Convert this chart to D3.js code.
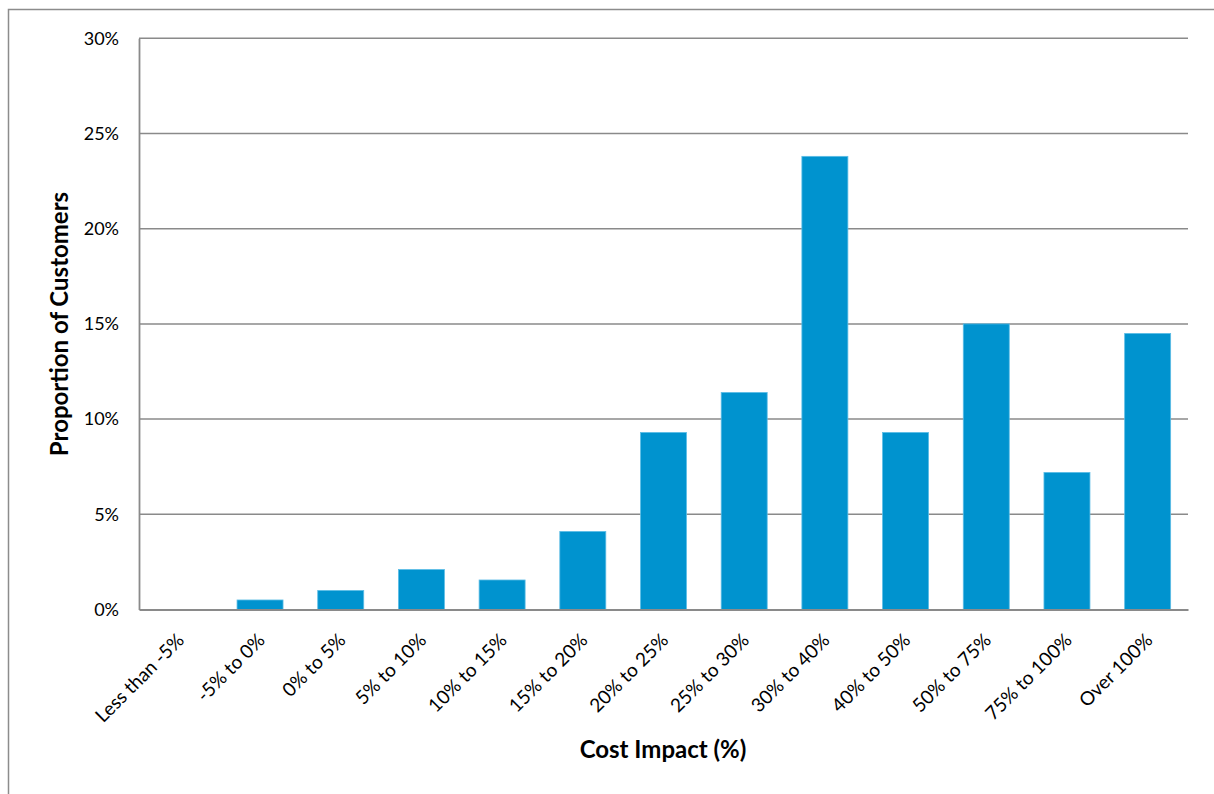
<!DOCTYPE html>
<html>
<head>
<meta charset="utf-8">
<script src="https://cdn.jsdelivr.net/npm/d3@7"></script>
<style>
  html, body { margin: 0; padding: 0; background: #fff; }
  svg { display: block; }
  text { font-family: Lato, "Open Sans", sans-serif; fill: #000; }
</style>
</head>
<body>
<svg id="chart" width="1214" height="794"></svg>
<script>
// Cost impact buckets and share of customers in each (%)
const categories = [
  "Less than -5%", "-5% to 0%", "0% to 5%", "5% to 10%", "10% to 15%",
  "15% to 20%", "20% to 25%", "25% to 30%", "30% to 40%", "40% to 50%",
  "50% to 75%", "75% to 100%", "Over 100%"
];
const shares = [0, 0.5, 1.0, 2.1, 1.55, 4.1, 9.3, 11.4, 23.8, 9.3, 15.0, 7.2, 14.5];
const yTicks = [0, 5, 10, 15, 20, 25, 30];

const svg = d3.select("#chart");

// outer chart frame
svg.append("rect")
  .attr("x", 8.5).attr("y", 9.5)
  .attr("width", 1220).attr("height", 800)
  .attr("fill", "none").attr("stroke", "#8c8c8c").attr("stroke-width", 1.5);

const plot = { left: 139, right: 1188, top: 38.3, bottom: 609.5 };

const x = d3.scaleBand()
  .domain(categories)
  .range([plot.left, plot.right])
  .paddingInner(0.43)
  .paddingOuter(0.215);

const y = d3.scaleLinear()
  .domain([0, 30])
  .range([plot.bottom, plot.top]);

// horizontal gridlines
svg.append("g")
  .selectAll("line")
  .data(yTicks.filter(d => d > 0))
  .join("line")
  .attr("x1", plot.left).attr("x2", plot.right)
  .attr("y1", d => y(d)).attr("y2", d => y(d))
  .attr("stroke", "#8a8a8a").attr("stroke-width", 1.5);

// bars
svg.append("g")
  .selectAll("rect")
  .data(categories.map((c, i) => ({ c, v: shares[i] })))
  .join("rect")
  .attr("x", d => x(d.c))
  .attr("y", d => y(d.v))
  .attr("width", x.bandwidth())
  .attr("height", d => y(0) - y(d.v))
  .attr("fill", "#0093cf")
  .attr("stroke", "#5cbde6")
  .attr("stroke-width", d => d.v > 0 ? 0.8 : 0);

// y axis
const yAxis = svg.append("g")
  .attr("transform", `translate(${plot.left},0)`)
  .call(d3.axisLeft(y).tickValues(yTicks).tickFormat(d => d + "%").tickSize(0).tickPadding(20));
yAxis.select(".domain").attr("stroke", "#8a8a8a").attr("stroke-width", 1.8);
yAxis.selectAll("text").attr("font-size", 18).attr("font-family", "Lato, sans-serif");

// x axis
const xAxis = svg.append("g")
  .attr("transform", `translate(0,${plot.bottom})`)
  .call(d3.axisBottom(x).tickSize(0).tickPadding(0));
xAxis.select(".domain").attr("stroke", "#8a8a8a").attr("stroke-width", 2.2);
xAxis.selectAll("text")
  .attr("font-size", 19)
  .attr("font-family", "Lato, sans-serif")
  .attr("text-anchor", "end")
  .attr("dy", null)
  .attr("transform", "translate(6,32) rotate(-45)");

// axis titles
svg.append("text")
  .attr("x", 663).attr("y", 758)
  .attr("text-anchor", "middle")
  .attr("font-size", 24).attr("font-weight", "bold")
  .text("Cost Impact (%)");

svg.append("text")
  .attr("transform", "translate(68,324) rotate(-90)")
  .attr("text-anchor", "middle")
  .attr("font-size", 24).attr("font-weight", "bold")
  .text("Proportion of Customers");
</script>
</body>
</html>
